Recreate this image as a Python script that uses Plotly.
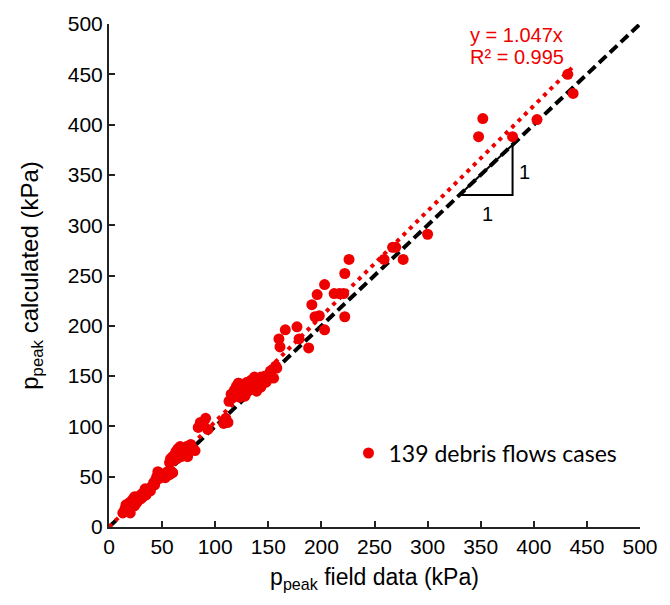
import plotly.graph_objects as go

# ---- data ----
x_field = [
    13, 15, 17, 18, 19, 20, 21, 22, 23, 24, 25, 26, 27, 28, 29, 30, 31, 32, 33, 35,
    36, 38, 40, 42, 44, 45, 47, 48, 50, 52, 54, 55, 57, 58, 60,
    16, 24, 34, 39, 43, 46, 53, 20, 27,
    57, 58, 60, 61, 62, 63, 64, 65, 66, 67, 68, 69, 70, 72, 73, 74, 75, 77, 79, 81,
    84, 86, 89, 91, 93, 108, 110, 112,
    113, 115, 116, 118, 119, 120, 121, 122, 123, 124, 125, 126, 127, 128, 129, 130,
    131, 132, 133, 134, 135, 136, 137, 138, 139, 140, 142, 143, 145, 147, 148, 150,
    152, 155, 158,
    157, 160, 161, 166, 177, 179, 188, 191, 194, 196, 198, 203, 203, 212, 217, 221,
    222, 222, 226, 259, 267, 270, 277, 300, 348, 352, 380, 403, 432, 437, 143, 122,
]
y_calc = [
    14, 18, 16, 20, 24, 19, 22, 27, 25, 21, 29, 24, 30, 27, 31, 28, 33, 30, 34, 32,
    36, 38, 40, 44, 47, 50, 48, 52, 50, 53, 51, 55, 52, 56, 54,
    22, 30, 38, 36, 42, 55, 49, 14, 26,
    64, 68, 70, 66, 72, 75, 68, 78, 73, 80, 70, 76, 78, 74, 80, 70, 77, 82, 78, 76,
    99, 104, 101, 108, 97, 103, 108, 104,
    125, 132, 128, 136, 130, 140, 134, 143, 129, 138, 133, 141, 136, 130, 139, 144,
    135, 142, 138, 146, 140, 137, 149, 143, 135, 145, 147, 139, 145, 150, 144, 150,
    155, 148, 158,
    160, 187, 179, 196, 199, 187, 178, 221, 209, 231, 210, 196, 241, 232, 232, 232,
    209, 252, 266, 266, 278, 278, 266, 291, 388, 406, 388, 405, 450, 431, 149, 143,
]
series_name = "139 debris flows cases"
fit_slope = 1.047
fit_r2 = 0.995
diag_range = [0, 500]
tri_x = [330, 380, 380, 330]
tri_y = [330, 330, 380, 330]
tick_vals = list(range(0, 501, 50))

RED = "rgb(238,0,0)"
FONT = "Liberation Sans, Arial, sans-serif"

fig = go.Figure()

# 1:1 dashed line
fig.add_trace(go.Scatter(
    x=diag_range, y=diag_range, mode="lines",
    line=dict(color="black", width=4, dash="10px,5px"),
    showlegend=False, hoverinfo="skip"))

# linear fit through origin (dotted red)
fx = [0, max(x_field)]
fig.add_trace(go.Scatter(
    x=fx, y=[fit_slope * v for v in fx], mode="lines",
    line=dict(color=RED, width=4, dash="4px,5px"),
    showlegend=False, hoverinfo="skip"))

# data points
fig.add_trace(go.Scatter(
    x=x_field, y=y_calc, mode="markers", name=series_name,
    marker=dict(color=RED, size=11, line=dict(width=0)),
    showlegend=True))

# slope triangle
fig.add_trace(go.Scatter(
    x=tri_x, y=tri_y, mode="lines",
    line=dict(color="black", width=2),
    showlegend=False, hoverinfo="skip"))

fig.add_annotation(x=356, y=311, text="1", showarrow=False,
                   font=dict(family=FONT, size=20, color="black"))
fig.add_annotation(x=391, y=353, text="1", showarrow=False,
                   font=dict(family=FONT, size=20, color="black"))

fig.add_annotation(x=338, y=489, xanchor="left", yanchor="middle",
                   text=f"y = {fit_slope:.3f}x", showarrow=False,
                   font=dict(family=FONT, size=20, color=RED))
fig.add_annotation(x=338, y=467, xanchor="left", yanchor="middle",
                   text=f"R² = {fit_r2:.3f}", showarrow=False,
                   font=dict(family=FONT, size=20, color=RED))

axis_common = dict(
    range=[0, 500], tickmode="array", tickvals=tick_vals,
    ticks="inside", ticklen=6, tickwidth=2, tickcolor="#222",
    showline=True, linewidth=2, linecolor="#222",
    showgrid=False, zeroline=False,
    tickfont=dict(family=FONT, size=21, color="black"),
)

fig.update_layout(
    width=670, height=605,
    margin=dict(l=109, r=22, t=22, b=78),
    plot_bgcolor="white", paper_bgcolor="white",
    xaxis=dict(**axis_common,
               title=dict(text="p<sub>peak</sub> field data (kPa)",
                          font=dict(family=FONT, size=23, color="black"),
                          standoff=12)),
    yaxis=dict(**axis_common,
               title=dict(text="p<sub>peak</sub> calculated (kPa)",
                          font=dict(family=FONT, size=24, color="black"),
                          standoff=22)),
    legend=dict(x=0.451, y=0.147, xanchor="left", yanchor="middle",
                bgcolor="rgba(0,0,0,0)", borderwidth=0,
                font=dict(family="Lato, Carlito, sans-serif", size=23, color="black")),
    showlegend=True,
)

fig.write_html("out.html")
